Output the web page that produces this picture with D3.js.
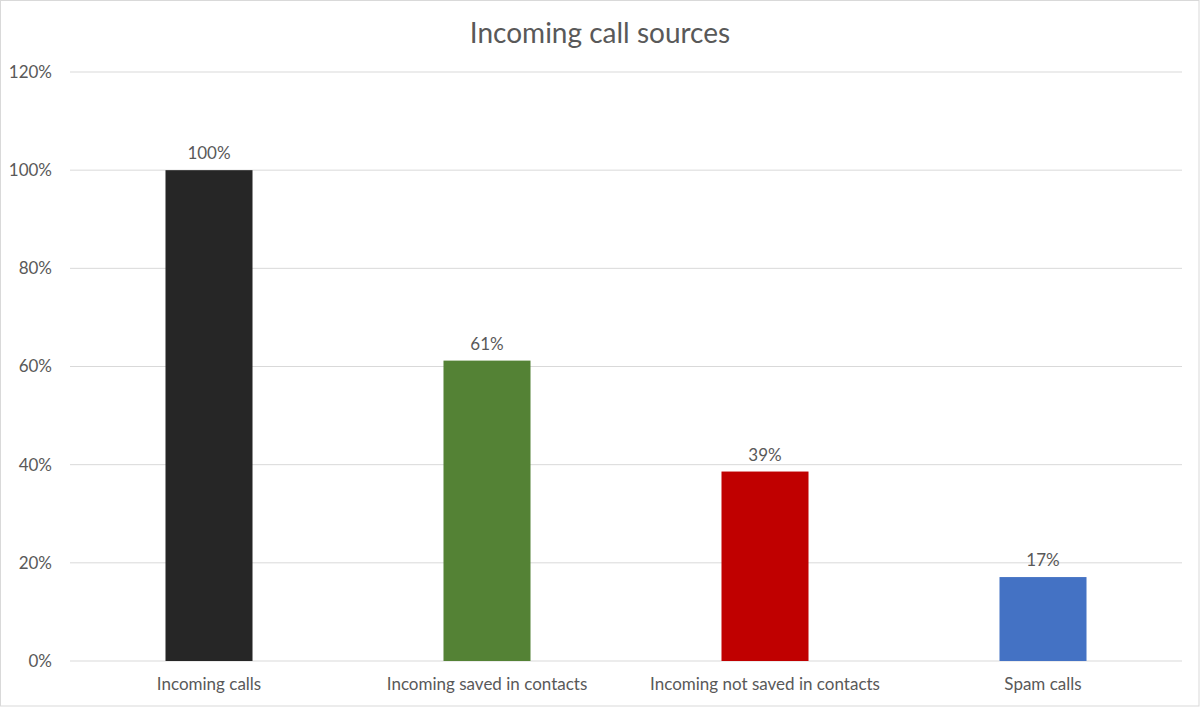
<!DOCTYPE html>
<html><head><meta charset="utf-8">
<script src="https://cdn.jsdelivr.net/npm/d3@7/dist/d3.min.js"></script>
<style>body{margin:0;background:#fff}svg{display:block}text{font-family:Lato,"Open Sans",sans-serif;fill:#595959}</style>
</head><body>
<script>
const categories = ["Incoming calls","Incoming saved in contacts","Incoming not saved in contacts","Spam calls"];
const values = [1.00, 0.612, 0.386, 0.171];
const labels = ["100%","61%","39%","17%"];
const colors = ["#262626","#548235","#C00000","#4472C4"];
const yTicks = [0,0.2,0.4,0.6,0.8,1.0,1.2];
const title = "Incoming call sources";

const W=1200,H=707;
const svg=d3.select("body").append("svg").attr("width",W).attr("height",H);
svg.append("rect").attr("x",0.5).attr("y",0.5).attr("width",W-1.5).attr("height",H-1.5).attr("fill","#fff").attr("stroke","#d9d9d9");

const m={l:70,r:1182,t:72,b:661};
const x=d3.scaleBand().domain(categories).range([m.l,m.r]).paddingInner(0.687).paddingOuter(0.3435);
const y=d3.scaleLinear().domain([0,1.2]).range([m.b,m.t]);

svg.append("g").selectAll("line").data(yTicks).join("line")
  .attr("x1",m.l).attr("x2",m.r).attr("y1",d=>y(d)).attr("y2",d=>y(d))
  .attr("stroke","#d9d9d9").attr("stroke-width",1);

const ya=svg.append("g").attr("transform",`translate(${m.l},0)`)
  .call(d3.axisLeft(y).tickValues(yTicks).tickFormat(d3.format(".0%")).tickSize(0).tickPadding(18));
ya.select(".domain").remove();
ya.selectAll("text").attr("font-size",17).style("font-family","Lato").attr("fill","#595959");

svg.append("g").selectAll("rect").data(values).join("rect")
  .attr("x",(d,i)=>x(categories[i])).attr("width",x.bandwidth())
  .attr("y",d=>y(d)).attr("height",d=>y(0)-y(d))
  .attr("fill",(d,i)=>colors[i]);

svg.append("g").selectAll("text").data(values).join("text")
  .attr("x",(d,i)=>x(categories[i])+x.bandwidth()/2).attr("y",d=>y(d)-11)
  .attr("text-anchor","middle").attr("font-size",17).text((d,i)=>labels[i]);

const xa=svg.append("g").attr("transform",`translate(0,${m.b})`)
  .call(d3.axisBottom(x).tickSize(0).tickPadding(17));
xa.select(".domain").remove();
xa.selectAll("text").attr("font-size",17).style("font-family","Lato").attr("fill","#595959");

svg.append("text").attr("x",600).attr("y",43).attr("text-anchor","middle")
  .attr("font-size",28).text(title);
</script>
</body></html>
